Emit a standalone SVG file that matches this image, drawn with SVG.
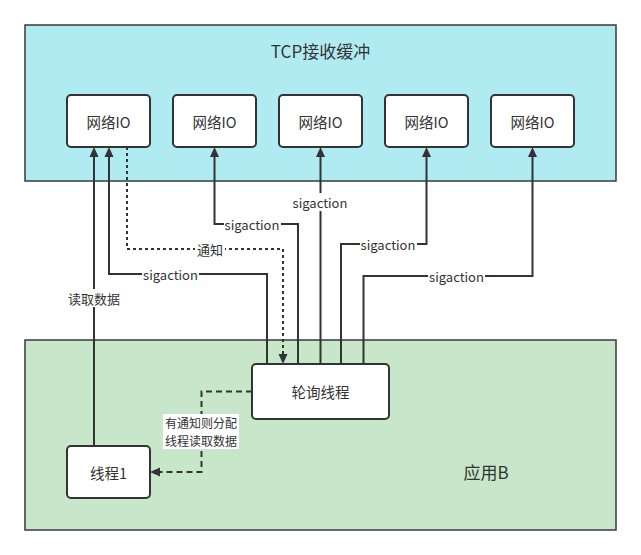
<svg xmlns="http://www.w3.org/2000/svg" width="641" height="555" viewBox="0 0 641 555">
  <style>
    text { font-family: "Noto Sans CJK SC", "Noto Sans", sans-serif; fill: #333333; text-anchor: middle; dominant-baseline: central; }
    .zone { stroke: #3a3a3a; stroke-width: 1.5; }
    .node { fill: #ffffff; stroke: #333333; stroke-width: 2; }
    .title { font-size: 17px; }
    .nt { font-size: 14.5px; }
    .lbl { font-size: 13px; }
    .lbl2 { font-size: 12px; }
    .edge { fill: none; stroke: #333333; stroke-width: 2; marker-end: url(#arrow); }
    .dotted { stroke-dasharray: 3 3; }
    .dashed { stroke-dasharray: 6 4; }
    .bg { fill: #ffffff; }
  </style>
  <defs>
    <marker id="arrow" markerUnits="userSpaceOnUse" markerWidth="10" markerHeight="10" refX="0" refY="5" orient="auto" overflow="visible">
      <path d="M0,0.5 L10,5 L0,9.5 z" fill="#333333" stroke="none"/>
    </marker>
  </defs>

  <!-- container areas -->
  <g id="tcp-buffer">
    <rect class="zone" x="25" y="25" width="591" height="156" fill="#b1ebf2"/>
    <text class="title" x="320.5" y="50">TCP接收缓冲</text>
  </g>
  <g id="app-b">
    <rect class="zone" x="25" y="340" width="591" height="190" fill="#c8e6c9"/>
    <text class="title" x="486" y="471">应用B</text>
  </g>

  <!-- network IO nodes -->
  <g id="io1"><rect class="node" x="67" y="95" width="83" height="52" rx="4"/><text class="nt" x="108.5" y="121">网络IO</text></g>
  <g id="io2"><rect class="node" x="173" y="95" width="83" height="52" rx="4"/><text class="nt" x="214.5" y="121">网络IO</text></g>
  <g id="io3"><rect class="node" x="279" y="95" width="83" height="52" rx="4"/><text class="nt" x="320.5" y="121">网络IO</text></g>
  <g id="io4"><rect class="node" x="385" y="95" width="83" height="52" rx="4"/><text class="nt" x="426.5" y="121">网络IO</text></g>
  <g id="io5"><rect class="node" x="491" y="95" width="83" height="52" rx="4"/><text class="nt" x="532.5" y="121">网络IO</text></g>

  <!-- application threads -->
  <g id="poll"><rect class="node" x="252" y="364" width="137" height="55" rx="4"/><text class="nt" x="320.5" y="391.5">轮询线程</text></g>
  <g id="thread1"><rect class="node" x="67" y="446" width="83" height="52" rx="4"/><text class="nt" x="108.5" y="472">线程1</text></g>

  <!-- connectors -->
  <g id="connectors">
    <path class="edge" d="M94,446 V157"/>
    <path class="edge" d="M267,364 V274 H109 V157"/>
    <path class="edge dotted" d="M127,147 V249 H283 V354"/>
    <path class="edge" d="M298,364 V224 H214.5 V157"/>
    <path class="edge" d="M320.5,364 V157"/>
    <path class="edge" d="M341,364 V244 H426.5 V157"/>
    <path class="edge" d="M363.5,364 V276 H532.5 V157"/>
    <path class="edge dashed" d="M252,391.5 H201.5 V472 H160"/>

    <!-- connector labels -->
    <rect class="bg" x="67" y="289" width="53" height="18"/>
    <text class="lbl" x="94" y="298">读取数据</text>
    <rect class="bg" x="142" y="265" width="57" height="18"/>
    <text class="lbl" x="170.5" y="274">sigaction</text>
    <rect class="bg" x="195" y="240" width="30" height="18"/>
    <text class="lbl" x="210" y="249">通知</text>
    <rect class="bg" x="224" y="215" width="57" height="18"/>
    <text class="lbl" x="252" y="224">sigaction</text>
    <rect class="bg" x="292" y="193" width="57" height="18"/>
    <text class="lbl" x="320" y="202">sigaction</text>
    <rect class="bg" x="360" y="235" width="57" height="18"/>
    <text class="lbl" x="388" y="244">sigaction</text>
    <rect class="bg" x="428" y="267" width="57" height="18"/>
    <text class="lbl" x="456.5" y="276">sigaction</text>
    <rect class="bg" x="163" y="414" width="76" height="35"/>
    <text class="lbl2" x="201" y="422.5">有通知则分配</text>
    <text class="lbl2" x="201" y="440.5">线程读取数据</text>
  </g>
</svg>
